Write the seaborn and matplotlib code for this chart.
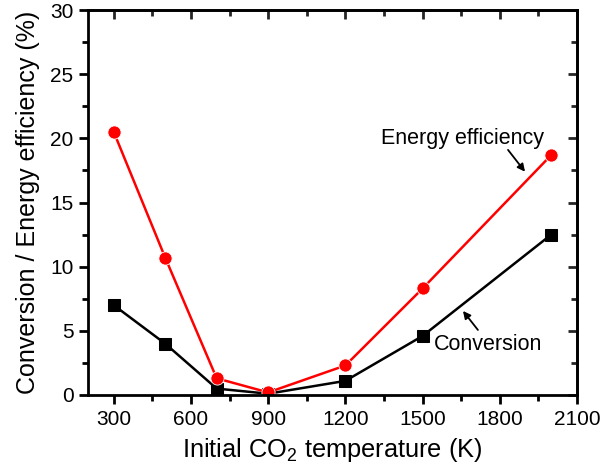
import matplotlib
matplotlib.use("Agg")
import matplotlib.pyplot as plt
import seaborn as sns
import pandas as pd
from matplotlib.ticker import MultipleLocator

temperature = [300, 500, 700, 900, 1200, 1500, 2000]
energy_efficiency = [20.5, 10.7, 1.3, 0.2, 2.3, 8.3, 18.7]
conversion = [7.0, 4.0, 0.5, 0.1, 1.1, 4.6, 12.5]

sns.set_theme(style="ticks")
plt.rcParams["font.family"] = ["Liberation Sans", "DejaVu Sans"]
plt.rcParams["mathtext.fontset"] = "custom"
plt.rcParams["mathtext.rm"] = "Liberation Sans"

df = pd.DataFrame({"T": temperature, "ee": energy_efficiency, "conv": conversion})

fig = plt.figure(figsize=(6.01, 4.72), dpi=100)
ax = fig.add_axes([88 / 601, 1 - 395 / 472, (577 - 88) / 601, (395 - 10) / 472])

sns.lineplot(data=df, x="T", y="conv", ax=ax, color="black", marker="s",
             markersize=8.5, markeredgecolor="black", linewidth=1.8)
sns.lineplot(data=df, x="T", y="ee", ax=ax, color="red", marker="o",
             markersize=9.5, markeredgecolor="white", markeredgewidth=0.6, linewidth=1.8)

ax.set_xlim(200, 2100)
ax.set_ylim(0, 30)
ax.xaxis.set_major_locator(MultipleLocator(300))
ax.xaxis.set_minor_locator(MultipleLocator(150))
ax.yaxis.set_major_locator(MultipleLocator(5))
ax.yaxis.set_minor_locator(MultipleLocator(2.5))

for s in ax.spines.values():
    s.set_linewidth(2)
    s.set_color("black")

ax.tick_params(axis="both", which="major", length=6.5, width=2, labelsize=15,
               color="black", labelcolor="black", pad=4)
ax.tick_params(axis="both", which="minor", length=4, width=2, color="black")
ax.tick_params(axis="both", which="both", direction="out", bottom=True, left=True)
# inward ticks on the top and right frame
top = ax.secondary_xaxis("top")
top.xaxis.set_major_locator(MultipleLocator(300))
top.xaxis.set_minor_locator(MultipleLocator(150))
top.tick_params(which="major", direction="in", length=6.5, width=2, labeltop=False)
top.tick_params(which="minor", direction="in", length=4, width=2)
top.spines["top"].set_linewidth(2)
right = ax.secondary_yaxis("right")
right.yaxis.set_major_locator(MultipleLocator(5))
right.yaxis.set_minor_locator(MultipleLocator(2.5))
right.tick_params(which="major", direction="in", length=6.5, width=2, labelright=False)
right.tick_params(which="minor", direction="in", length=4, width=2)
right.spines["right"].set_linewidth(2)

ax.set_xlabel("Initial CO$_2$ temperature (K)", fontsize=18.3, color="black", labelpad=5)
ax.set_ylabel("Conversion / Energy efficiency (%)", fontsize=18, color="black", labelpad=7)

arrow = dict(arrowstyle="-|>", color="black", lw=1.3, shrinkA=0, shrinkB=0,
             mutation_scale=11)
ax.text(1657, 20.0, "Energy efficiency", fontsize=15.5, ha="center", va="center",
        color="black")
ax.annotate("", xy=(1898, 17.4), xytext=(1832, 19.1), arrowprops=arrow)
ax.text(1754, 3.9, "Conversion", fontsize=15.5, ha="center", va="center",
        color="black")
ax.annotate("", xy=(1657, 6.55), xytext=(1715, 5.07), arrowprops=arrow)

fig.savefig("out.png", dpi=100)
